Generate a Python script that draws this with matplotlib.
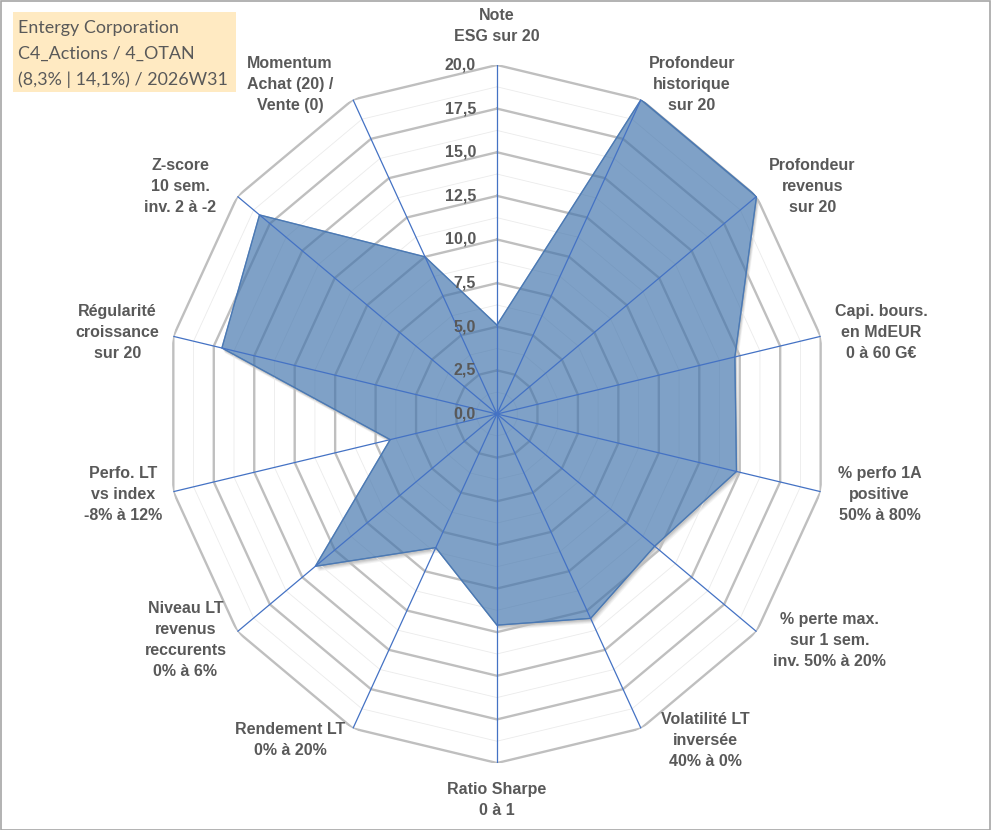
import numpy as np
import matplotlib.pyplot as plt
import matplotlib.transforms as mtransforms
from matplotlib.patches import Rectangle

# data
labels = [
    "Note\nESG sur 20",
    "Profondeur\nhistorique\nsur 20",
    "Profondeur\nrevenus\nsur 20",
    "Capi. bours.\nen MdEUR\n0 à 60 G€",
    "% perfo 1A\npositive\n50% à 80%",
    "% perte max.\nsur 1 sem.\ninv. 50% à 20%",
    "Volatilité LT\ninversée\n40% à 0%",
    "Ratio Sharpe\n0 à 1",
    "Rendement LT\n0% à 20%",
    "Niveau LT\nrevenus\nreccurents\n0% à 6%",
    "Perfo. LT\nvs index\n-8% à 12%",
    "Régularité\ncroissance\nsur 20",
    "Z-score\n10 sem.\ninv. 2 à -2",
    "Momentum\nAchat (20) /\nVente (0)",
]
values = [5.1, 20.0, 20.0, 14.7, 14.8, 12.15, 13.0, 12.1, 8.5, 14.0, 6.6, 17.0, 18.3, 10.0]
ticks = [0, 2.5, 5, 7.5, 10, 12.5, 15, 17.5, 20]
tick_labels = ["0,0", "2,5", "5,0", "7,5", "10,0", "12,5", "15,0", "17,5", "20,0"]
title_lines = ["Entergy Corporation", "C4_Actions / 4_OTAN", "(8,3% | 14,1%) / 2026W31"]

# label centre offsets from the outer vertex, in pixels
label_offsets = [(0, 39), (51, 15), (56, 10), (61, 4), (59, -3), (73, -9), (64, -12),
                 (0, -37), (-63, -12), (-52, -8), (-50, -3), (-56, 4), (-57, 10), (-63, 15)]

txt_col = "#595959"
font = "Liberation Sans"

n = len(labels)
angles = np.arange(n) * 2 * np.pi / n
ang_c = np.append(angles, angles[0])
vals_c = np.append(values, values[0])

fig = plt.figure(figsize=(9.91, 8.30), dpi=100)
ax = fig.add_axes([0.1665, 0.0807, 0.670, 0.841], projection="polar")
ax.set_aspect("auto")
ax.set_theta_zero_location("N")
ax.set_theta_direction(-1)
ax.set_ylim(0, 20)
ax.grid(False)
ax.set_xticks([])
ax.set_yticks([])
ax.spines["polar"].set_visible(False)
ax.patch.set_alpha(0)

# shadow of the series
for d, a in [(2, 0.10), (3, 0.10), (4, 0.08), (5, 0.06)]:
    tr = ax.transData + mtransforms.Affine2D().translate(d * 0.6, -d)
    ax.fill(ang_c, vals_c, color="#404040", alpha=a, lw=0, transform=tr, zorder=1)
ax.fill(ang_c, vals_c, color="white", lw=0, zorder=1.5)

# polygon grid
for r in np.arange(1.25, 20, 2.5):
    ax.plot(ang_c, [r] * (n + 1), color="#EBEBEB", lw=0.6, zorder=2)
for r in ticks[1:]:
    ax.plot(ang_c, [r] * (n + 1), color="#BFBFBF", lw=1.7, zorder=2.1)

ax.fill(ang_c, vals_c, color="#4375AD", alpha=0.68, zorder=3)
ax.plot(ang_c, vals_c, color="#4A78B4", lw=0.8, zorder=3.1)

# spokes
for t in angles:
    ax.plot([t, t], [0, 20], color="#4472C4", lw=0.9, zorder=4)

# radial tick labels
for v, s in zip(ticks, tick_labels):
    ax.annotate(s, xy=(0, v), xytext=(-21, 0), textcoords="offset pixels",
                ha="right", va="center", fontsize=11.5, fontweight="bold",
                color=txt_col, family=font, zorder=5, annotation_clip=False)

# category labels
for t, lab, off in zip(angles, labels, label_offsets):
    ax.annotate(lab, xy=(t, 20), xytext=off, textcoords="offset pixels",
                ha="center", va="center", multialignment="center",
                fontsize=11.5, fontweight="bold", color=txt_col, family=font,
                linespacing=1.5, annotation_clip=False, zorder=5)

# title box
fig.patches.append(Rectangle((13 / 991, 1 - 92 / 830), 223 / 991, 80 / 830,
                             transform=fig.transFigure, facecolor="#FFEAC2",
                             edgecolor="none", zorder=0))
for i, line in enumerate(title_lines):
    fig.text(18 / 991, 1 - (33 + 26 * i) / 830, line, ha="left", va="baseline",
             fontsize=12.9, color=txt_col, family="Lato")

# chart border
fig.patches.append(Rectangle((0.5 / 991, 0.5 / 830), 989.5 / 991, 828.5 / 830,
                             transform=fig.transFigure, facecolor="none",
                             edgecolor="#A6A6A6", lw=1.2))

fig.savefig("out.png", dpi=100)
